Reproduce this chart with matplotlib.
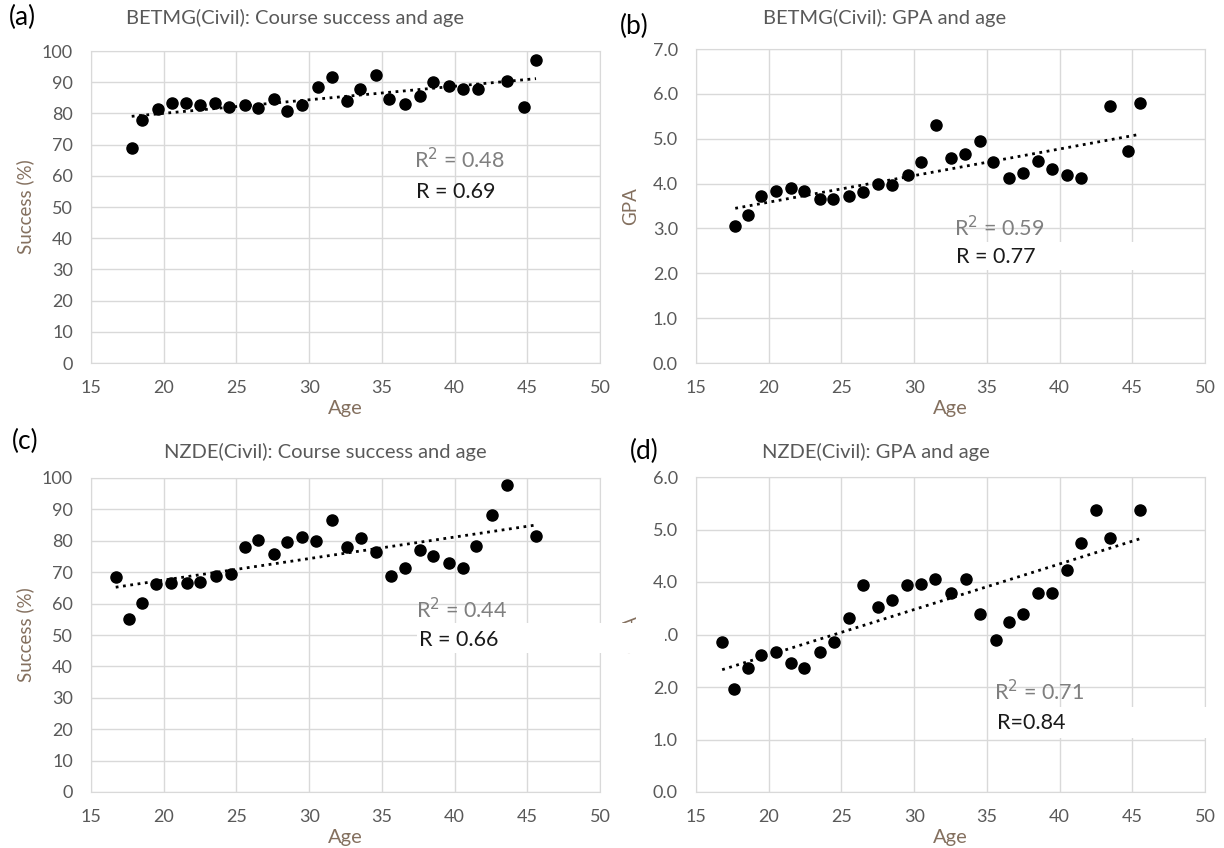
import matplotlib
matplotlib.use("Agg")
import matplotlib.pyplot as plt  # noqa: E402
import numpy as np  # noqa: E402
from matplotlib.patches import Rectangle  # noqa: E402
from matplotlib.ticker import FormatStrFormatter  # noqa: E402

W, H = 1224, 848
TICK_COLOR = "#595959"
LABEL_COLOR = "#84705f"
GRID_COLOR = "#d9d9d9"

# (a) BETMG course success vs age
age_a = [17.8, 18.5, 19.6, 20.6, 21.5, 22.5, 23.5, 24.5, 25.6, 26.5, 27.6, 28.5, 29.5, 30.6,
         31.6, 32.6, 33.5, 34.6, 35.5, 36.6, 37.6, 38.5, 39.6, 40.6, 41.6, 43.6, 44.8, 45.6]
success_a = [68.8, 77.9, 81.3, 83.2, 83.2, 82.7, 83.2, 82.2, 82.7, 81.6, 84.6, 80.8, 82.7, 88.6,
             91.8, 84.1, 87.7, 92.3, 84.6, 83.1, 85.6, 90.0, 88.9, 87.8, 87.8, 90.4, 81.9, 97.1]

# (b) BETMG GPA vs age
age_b = [17.7, 18.6, 19.5, 20.5, 21.5, 22.4, 23.5, 24.4, 25.5, 26.5, 27.5, 28.5, 29.6, 30.5,
         31.5, 32.5, 33.5, 34.5, 35.4, 36.5, 37.5, 38.5, 39.5, 40.5, 41.5, 43.5, 44.7, 45.5]
gpa_b = [3.06, 3.29, 3.73, 3.83, 3.90, 3.83, 3.66, 3.66, 3.72, 3.82, 4.00, 3.96, 4.18, 4.47,
         5.30, 4.56, 4.67, 4.94, 4.47, 4.13, 4.24, 4.50, 4.33, 4.20, 4.13, 5.73, 4.73, 5.80]

# (c) NZDE course success vs age
age_c = [16.7, 17.6, 18.5, 19.5, 20.5, 21.6, 22.5, 23.6, 24.6, 25.6, 26.5, 27.6, 28.5, 29.5,
         30.5, 31.6, 32.6, 33.6, 34.6, 35.6, 36.6, 37.6, 38.5, 39.6, 40.6, 41.5, 42.6, 43.6, 45.6]
success_c = [68.5, 55.1, 60.3, 66.2, 66.5, 66.5, 66.9, 68.8, 69.3, 78.0, 80.4, 75.7, 79.5, 81.3,
             79.8, 86.7, 78.1, 80.9, 76.5, 68.9, 71.4, 77.2, 75.2, 72.8, 71.4, 78.5, 88.2, 97.8, 81.4]

# (d) NZDE GPA vs age
age_d = [16.8, 17.6, 18.6, 19.5, 20.5, 21.5, 22.4, 23.5, 24.5, 25.5, 26.5, 27.5, 28.5, 29.5,
         30.5, 31.4, 32.5, 33.6, 34.5, 35.6, 36.5, 37.5, 38.5, 39.5, 40.5, 41.5, 42.5, 43.5, 45.5]
gpa_d = [2.86, 1.97, 2.37, 2.61, 2.66, 2.46, 2.37, 2.66, 2.86, 3.32, 3.94, 3.52, 3.66, 3.94,
         3.97, 4.06, 3.80, 4.06, 3.40, 2.89, 3.23, 3.40, 3.80, 3.80, 4.23, 4.75, 5.38, 4.83, 5.38]

plt.rcParams["font.family"] = ["Lato", "DejaVu Sans"]

fig = plt.figure(figsize=(W / 100, H / 100), dpi=100)


def px(x, y):
    return x / W, 1 - y / H


def add_panel(box, ages, values, ymax, ystep, fmt, ylabel):
    left, top, right, bottom = box
    ax = fig.add_axes([left / W, 1 - bottom / H, (right - left) / W, (bottom - top) / H])
    ax.set_xlim(15, 50)
    ax.set_ylim(0, ymax)
    ax.set_xticks(np.arange(15, 51, 5))
    ax.set_yticks(np.arange(0, ymax + ystep / 2, ystep))
    ax.yaxis.set_major_formatter(FormatStrFormatter(fmt))
    ax.grid(True, color=GRID_COLOR, lw=1)
    ax.set_axisbelow(True)
    for s in ax.spines.values():
        s.set_color(GRID_COLOR)
    ax.tick_params(length=0, labelsize=13, labelcolor=TICK_COLOR)
    ax.tick_params(axis="y", pad=13)
    ax.tick_params(axis="x", pad=12)

    ax.plot(ages, values, "o", color="black", ms=8, zorder=3)
    slope, icpt = np.polyfit(ages, values, 1)
    xs = np.array([min(ages), max(ages)])
    ax.plot(xs, slope * xs + icpt, ls=":", color="black", lw=2, zorder=2)

    ax.set_ylabel(ylabel, fontsize=13.5, color=LABEL_COLOR)
    ax.yaxis.set_label_coords(-57 / (right - left), 0.5)
    ax.set_xlabel("Age", fontsize=14.5, color=LABEL_COLOR)
    ax.xaxis.set_label_coords(0.5, -37 / (bottom - top))
    return ax


add_panel((91, 51, 600, 363), age_a, success_a, 100, 10, "%d", "Success (%)")
add_panel((696, 49, 1205, 363), age_b, gpa_b, 7, 1, "%.1f", "GPA")
add_panel((91, 478, 600, 792), age_c, success_c, 100, 10, "%d", "Success (%)")
add_panel((696, 477, 1205, 792), age_d, gpa_d, 6, 1, "%.1f", "GPA")

# titles and panel letters
titles = [("BETMG(Civil): Course success and age", 295, 18),
          ("BETMG(Civil): GPA and age", 885, 18),
          ("NZDE(Civil): Course success and age", 325, 452),
          ("NZDE(Civil): GPA and age", 876, 452)]
for text, x, y in titles:
    fig.text(*px(x, y), text, ha="center", va="center", fontsize=14.5, color=TICK_COLOR)

letters = [("(a)", 22, 17), ("(b)", 634, 26), ("(c)", 25, 441), ("(d)", 644, 451)]
for text, x, y in letters:
    fig.text(*px(x, y), text, ha="center", va="center", fontsize=19, color="black")

# white label backgrounds (they cover gridlines and neighbouring text)
boxes = [(945, 242, 1200, 270), (417, 623, 665, 653), (995, 707, 1212, 738)]
for x0, y0, x1, y1 in boxes:
    fig.add_artist(Rectangle(px(x0, y1), (x1 - x0) / W, (y1 - y0) / H,
                             transform=fig.transFigure, facecolor="white",
                             edgecolor="none", zorder=4))

r2_texts = [("R$^2$ = 0.48", 414, 160), ("R$^2$ = 0.59", 954, 228),
            ("R$^2$ = 0.44", 416, 610), ("R$^2$ = 0.71", 994, 692)]
for text, x, y in r2_texts:
    fig.text(*px(x, y), text, ha="left", va="center", fontsize=15.5,
             color="#7f7f7f", zorder=5)

r_texts = [("R = 0.69", 416, 192), ("R = 0.77", 956, 257),
           ("R = 0.66", 419, 640), ("R=0.84", 997, 723)]
for text, x, y in r_texts:
    fig.text(*px(x, y), text, ha="left", va="center", fontsize=15.5,
             color="#1a1a1a", zorder=5)

fig.savefig("out.png", dpi=100, facecolor="white")
